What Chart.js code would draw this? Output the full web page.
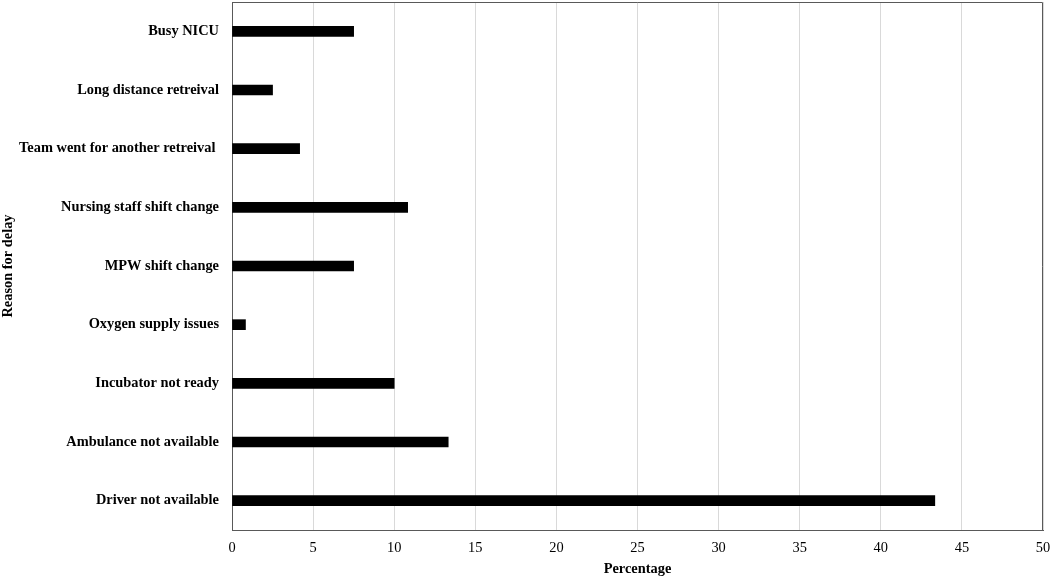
<!DOCTYPE html>
<html>
<head>
<meta charset="utf-8">
<script src="https://cdn.jsdelivr.net/npm/chart.js@4/dist/chart.umd.min.js"></script>
<style>
html,body{margin:0;padding:0;background:#fff;}
#wrap{width:1052px;height:578px;position:relative;}
</style>
</head>
<body>
<div id="wrap"><canvas id="c" width="1052" height="578"></canvas></div>
<script>
const categories = [
  "Busy NICU",
  "Long distance retreival",
  "Team went for another retreival ",
  "Nursing staff shift change",
  "MPW shift change",
  "Oxygen supply issues",
  "Incubator not ready",
  "Ambulance not available",
  "Driver not available"
];
const percentages = [7.5, 2.5, 4.17, 10.83, 7.5, 0.83, 10.0, 13.33, 43.33];
const xTicks = [0, 5, 10, 15, 20, 25, 30, 35, 40, 45, 50];

const serif = "'Liberation Serif', 'DejaVu Serif', serif";

const frame = {
  id: 'frame',
  afterDatasetsDraw(chart) {
    const {ctx, chartArea: a} = chart;
    ctx.save();
    ctx.strokeStyle = '#595959';
    ctx.lineWidth = 1;
    ctx.beginPath();
    ctx.moveTo(a.left, a.top + 0.5);
    ctx.lineTo(a.right - 0.5, a.top + 0.5);
    ctx.lineTo(a.right - 0.5, a.bottom);
    ctx.stroke();
    ctx.restore();
  }
};

new Chart(document.getElementById('c'), {
  type: 'bar',
  data: {
    labels: categories,
    datasets: [{
      data: percentages,
      backgroundColor: '#000000',
      borderWidth: 0,
      barThickness: 10
    }]
  },
  options: {
    indexAxis: 'y',
    responsive: false,
    animation: false,
    layout: { padding: { top: 2, right: 9, left: 0, bottom: 0 } },
    plugins: { legend: { display: false }, tooltip: { enabled: false } },
    scales: {
      x: {
        min: 0, max: 50,
        afterBuildTicks(scale) { scale.ticks = xTicks.map(v => ({ value: v })); },
        afterFit(scale) { scale.height = 48; scale.paddingLeft = 0; scale.paddingRight = 0; },
        grid: { color: '#d9d9d9', lineWidth: 1, drawTicks: false },
        border: { display: true, color: '#595959', width: 1 },
        ticks: { color: '#000', padding: 10, font: { family: serif, size: 14.4 } },
        title: {
          display: true, text: 'Percentage', color: '#000',
          padding: { top: 0, bottom: 0 },
          font: { family: serif, size: 14.4, weight: 'bold' }
        }
      },
      y: {
        afterFit(scale) { scale.width = 232; scale.paddingTop = 0; scale.paddingBottom = 0; },
        grid: { display: false, drawTicks: false },
        border: { display: true, color: '#595959', width: 1 },
        ticks: { color: '#000', padding: 13, font: { family: serif, size: 14.4, weight: 'bold' } },
        title: {
          display: true, text: 'Reason for delay', color: '#000',
          padding: { top: 0, bottom: 0 },
          font: { family: serif, size: 14.4, weight: 'bold' }
        }
      }
    }
  },
  plugins: [frame]
});
</script>
</body>
</html>
